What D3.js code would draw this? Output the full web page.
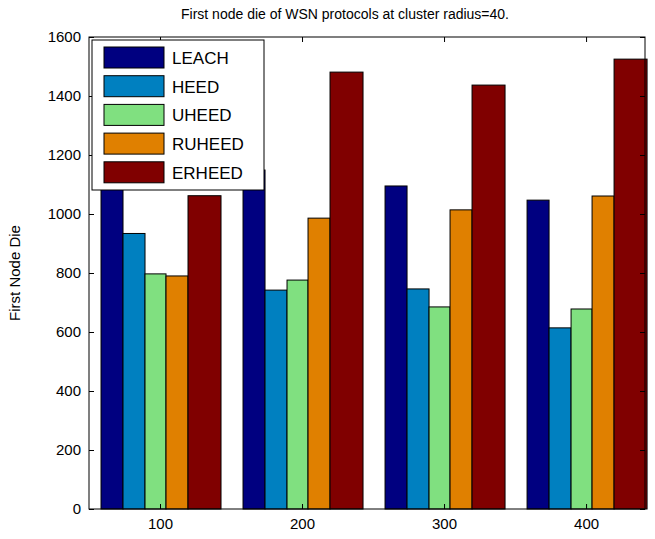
<!DOCTYPE html>
<html><head><meta charset="utf-8">
<script src="https://cdn.jsdelivr.net/npm/d3@7"></script>
<style>body{margin:0;background:#fff}text{font-family:Arial,"Liberation Sans",sans-serif}</style>
</head><body><div id="chart"></div>
<script>
const radius = [100, 200, 300, 400];
const protocols = ["LEACH", "HEED", "UHEED", "RUHEED", "ERHEED"];
const LEACH = [1110, 1149, 1095, 1047];
const HEED = [934, 742, 746, 614];
const UHEED = [797, 776, 685, 678];
const RUHEED = [790, 986, 1014, 1061];
const ERHEED = [1062, 1481, 1437, 1525];
const yTicks = [0, 200, 400, 600, 800, 1000, 1200, 1400, 1600];
const series = [LEACH, HEED, UHEED, RUHEED, ERHEED];
const colors = ["#000080", "#0080c0", "#80e080", "#e08000", "#800000"];

const W = 655, H = 539;
const m = {l: 89, r: 10, t: 37, b: 30};
const svg = d3.select("#chart").append("svg").attr("width", W).attr("height", H);

const x = d3.scaleLinear().domain([50, 441.5]).range([m.l, W - m.r]);
const y = d3.scaleLinear().domain([0, 1600]).range([H - m.b, m.t]);
// bar edges relative to group centre (last series drawn wider, as in the original)
const edges = [[-59, -37], [-37, -15], [-15, 6], [6, 28], [28, 61]];

series.forEach((s, i) => {
  svg.append("g").selectAll("rect").data(s).enter().append("rect")
    .attr("x", (d, j) => x(radius[j]) + edges[i][0])
    .attr("y", d => y(d))
    .attr("width", edges[i][1] - edges[i][0])
    .attr("height", d => y(0) - y(d))
    .attr("fill", colors[i]).attr("stroke", "#000").attr("stroke-width", 1);
});

svg.append("rect").attr("x", m.l).attr("y", m.t).attr("width", W - m.r - m.l)
  .attr("height", H - m.b - m.t).attr("fill", "none").attr("stroke", "#000");

const ya = svg.append("g").attr("transform", `translate(${m.l},0)`)
  .call(d3.axisLeft(y).tickValues(yTicks).tickSize(-5).tickPadding(8).tickFormat(d3.format("d")));
const yr = svg.append("g").attr("transform", `translate(${W - m.r},0)`)
  .call(d3.axisRight(y).tickValues(yTicks).tickSize(-5).tickFormat(""));
const xa = svg.append("g").attr("transform", `translate(0,${H - m.b})`)
  .call(d3.axisBottom(x).tickValues(radius).tickSize(-5).tickPadding(9));
const xt = svg.append("g").attr("transform", `translate(0,${m.t})`)
  .call(d3.axisTop(x).tickValues(radius).tickSize(-5).tickFormat(""));
[ya, yr, xa, xt].forEach(a => { a.select(".domain").remove(); a.selectAll("text").attr("font-size", 15).attr("fill", "#000"); });

svg.append("text").attr("x", 345).attr("y", 19).attr("text-anchor", "middle")
  .attr("font-size", 14).text("First node die of WSN protocols at cluster radius=40.");
svg.append("text").attr("transform", "translate(20,273) rotate(-90)").attr("text-anchor", "middle")
  .attr("font-size", 15).text("First Node Die");

const lg = svg.append("g").attr("transform", "translate(92,40)");
lg.append("rect").attr("width", 172).attr("height", 150).attr("fill", "#fff").attr("stroke", "#000");
protocols.forEach((p, i) => {
  lg.append("rect").attr("x", 12).attr("y", 7 + i * 28.7).attr("width", 60).attr("height", 21)
    .attr("fill", colors[i]).attr("stroke", "#000");
  lg.append("text").attr("x", 80).attr("y", 24 + i * 28.7).attr("font-size", 17).text(p);
});
</script></body></html>
